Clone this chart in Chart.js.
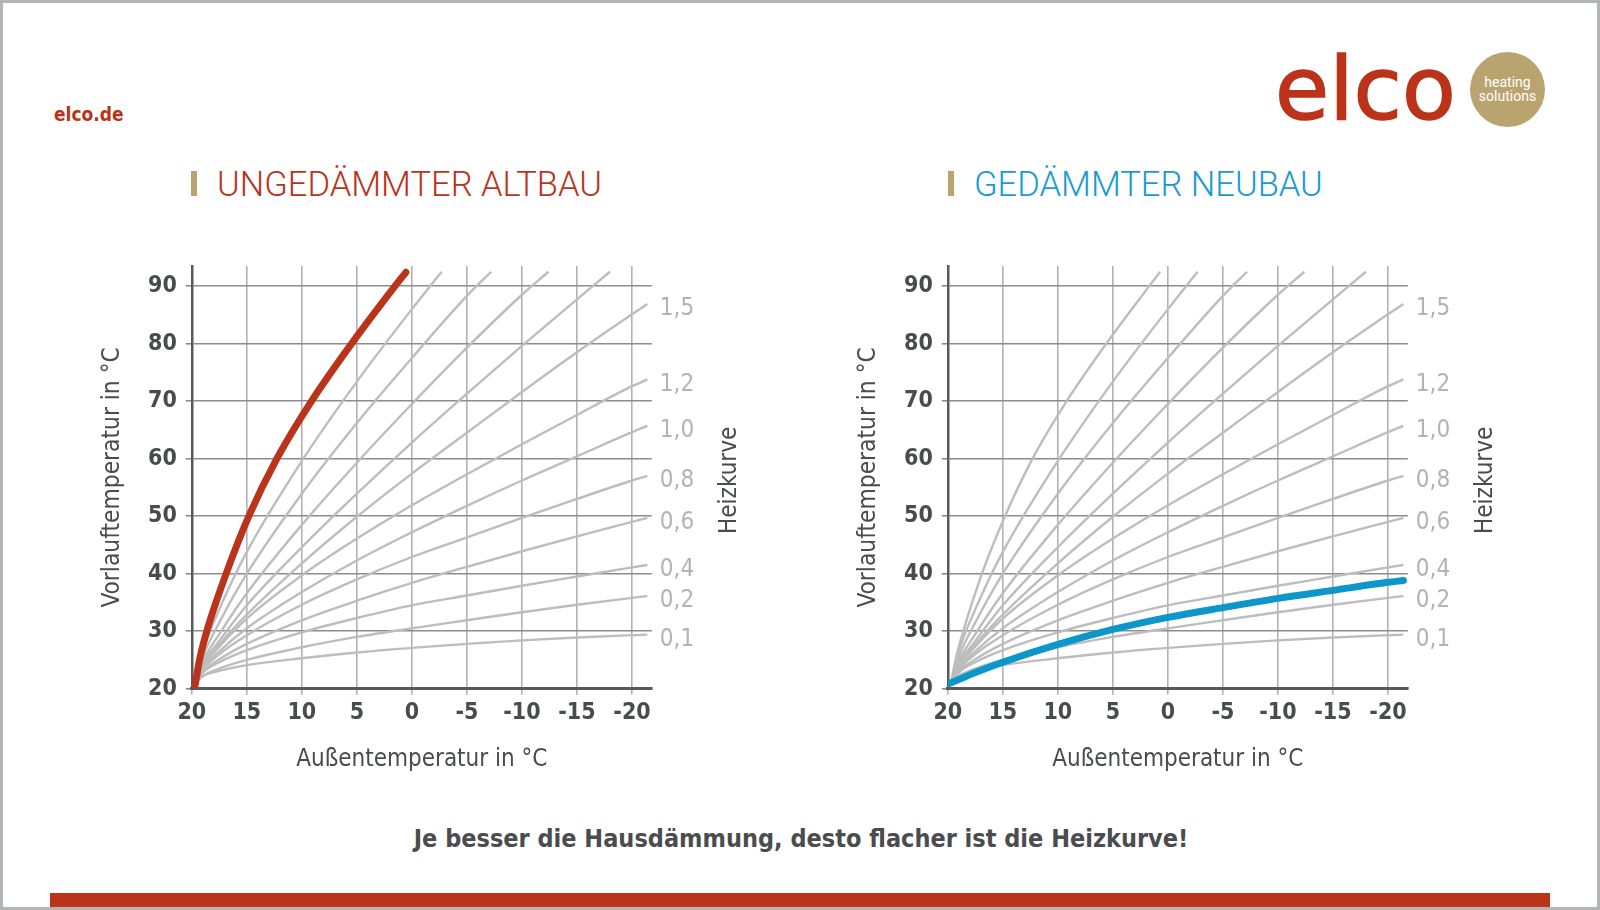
<!DOCTYPE html>
<html>
<head>
<meta charset="utf-8">
<script src="https://cdn.jsdelivr.net/npm/chart.js@4.4.1/dist/chart.umd.min.js"></script>
<style>
  html, body { margin: 0; padding: 0; background: #fff; }
  #page { position: relative; width: 1600px; height: 910px; overflow: hidden; background: #fff;
          font-family: 'DejaVu Sans Condensed', 'DejaVu Sans', sans-serif; }
  #frame { position: absolute; left: 0; top: 0; width: 1600px; height: 910px; box-sizing: border-box;
           border: 3px solid #b4b6b5; pointer-events: none; z-index: 10; }
  .abs { position: absolute; white-space: nowrap; }
  #site { left: 54px; top: 105px; font-weight: bold; font-size: 19px; line-height: 19px; color: #b8331a; }
  #logo { left: 1275px; top: 45px; font-family: 'DejaVu Sans', sans-serif; font-size: 88px;
          line-height: 88px; color: #bb3319; -webkit-text-stroke: 1.6px #bb3319; }
  #badge { left: 1470px; top: 52px; width: 75px; height: 75px; border-radius: 50%; background: #b9a46f; }
  .badgeText { left: 1470px; width: 75px; text-align: center; font-family: Roboto, sans-serif; font-size: 14px;
               line-height: 14px; color: #fff; }
  .bar { position: absolute; top: 171px; width: 6px; height: 25px; background: #b9a46e; }
  .title { top: 167px; font-family: Roboto, sans-serif; font-weight: 300; font-size: 34.5px; line-height: 34.5px; }
  #note { left: 0; top: 826px; width: 1602px; text-align: center; font-weight: bold; font-size: 25px;
          line-height: 25px; color: #4b4c4e; }
  #redbar { left: 50px; top: 893px; width: 1500px; height: 14px; background: #bb3319; }
  .chartBox { position: absolute; top: 230px; width: 800px; height: 580px; }
</style>
</head>
<body>
<div id="page">
  <div class="abs" id="site">elco.de</div>
  <div class="abs" id="logo">elco</div>
  <div class="abs" id="badge"></div>
  <div class="abs badgeText" style="top:75px">heating</div>
  <div class="abs badgeText" style="top:89px">solutions</div>

  <div class="bar" style="left:191px"></div>
  <div class="abs title" style="left:217px; color:#b9341a">UNGEDÄMMTER ALTBAU</div>
  <div class="bar" style="left:948px"></div>
  <div class="abs title" style="left:974px; color:#1a9ad2">GEDÄMMTER NEUBAU</div>

  <div class="chartBox" style="left:0px"><canvas id="altbau" width="800" height="580"></canvas></div>
  <div class="chartBox" style="left:756px"><canvas id="neubau" width="800" height="580"></canvas></div>

  <div class="abs" id="note">Je besser die Hausdämmung, desto flacher ist die Heizkurve!</div>
  <div class="abs" id="redbar"></div>
  <div id="frame"></div>
</div>

<script>
// outside temperature (x) where the labelled curves were read
const outsideTemp = [19.7, 19, 17.5, 15, 10, 5, 0, -5, -10, -15, -20, -21.4];

// flow temperature of the labelled heating curves
const curve01 = [21.0, 22.2, 23.1, 24.1, 25.3, 26.3, 27.1, 27.8, 28.4, 28.9, 29.3, 29.4];
const curve02 = [21.0, 22.2, 23.5, 25.0, 27.2, 29.0, 30.5, 31.9, 33.3, 34.6, 35.8, 36.1];
const curve04 = [21.0, 22.8, 24.6, 26.7, 29.8, 32.3, 34.5, 36.2, 37.9, 39.5, 41.1, 41.5];
const curve06 = [21.0, 22.9, 25.1, 27.8, 31.9, 35.3, 38.4, 41.2, 43.9, 46.5, 49.0, 49.7];
const curve08 = [21.0, 23.3, 26.0, 29.3, 34.6, 39.0, 42.9, 46.3, 49.7, 53.0, 56.2, 57.0];
const curve10 = [21.0, 23.5, 26.5, 30.5, 36.8, 42.3, 47.2, 51.8, 56.2, 60.4, 64.6, 65.7];
const curve12 = [21.0, 23.8, 27.3, 32.2, 39.7, 46.1, 51.9, 57.3, 62.5, 67.6, 72.6, 73.8];
const curve15 = [21.0, 24.0, 27.7, 32.9, 41.8, 49.9, 57.4, 64.5, 71.6, 78.5, 85.1, 86.9];

// steeper curves leave the chart at the top, so they have their own x values
const curve20X = [19.7, 19, 17.5, 15, 10, 5, 0, -5, -10, -15, -18.0];
const curve20Y = [21.0, 24.3, 28.3, 34.5, 44.6, 53.9, 62.8, 71.3, 79.6, 87.7, 92.5];
const curve25X = [19.7, 19, 17.5, 15, 10, 5, 0, -5, -10, -12.4];
const curve25Y = [21.0, 24.7, 29.5, 36.6, 48.5, 59.3, 69.5, 79.3, 88.5, 92.5];
const curve30X = [19.7, 19, 17.5, 15, 10, 5, 0, -5, -7.2];
const curve30Y = [21.0, 25.5, 31.5, 40.0, 53.9, 66.2, 77.5, 88.3, 92.5];
const curve35X = [19.7, 19, 17.5, 15, 10, 5, 0, -2.7];
const curve35Y = [21.0, 26.5, 33.8, 43.8, 59.6, 73.4, 86.0, 92.5];
const curve40X = [19.7, 19.3, 18.6, 16.9, 14.8, 12.3, 9.2, 5.6, 1.7, 0.7];
const curve40Y = [21.0, 25, 30, 40, 50, 60, 70, 80, 90, 92.5];

// highlighted curves
const altbauX = [19.7, 19.3, 18.64, 16.88, 14.82, 12.27, 9.12, 5.48, 1.54, 0.55];
const altbauY = [20.6, 25, 30, 40, 50, 60, 70, 80, 90, 92.4];
const neubauX = [20, 19, 17.5, 15, 10, 5, 0, -5, -10, -15, -20, -21.4];
const neubauY = [20.8, 21.6, 22.8, 24.6, 27.7, 30.3, 32.4, 34.1, 35.7, 37.1, 38.5, 38.8];

const xTicks = [20, 15, 10, 5, 0, -5, -10, -15, -20];
const yTicks = [20, 30, 40, 50, 60, 70, 80, 90];

const greyCurves = [
  { label: '0,1', x: outsideTemp, y: curve01 },
  { label: '0,2', x: outsideTemp, y: curve02 },
  { label: '0,4', x: outsideTemp, y: curve04 },
  { label: '0,6', x: outsideTemp, y: curve06 },
  { label: '0,8', x: outsideTemp, y: curve08 },
  { label: '1,0', x: outsideTemp, y: curve10 },
  { label: '1,2', x: outsideTemp, y: curve12 },
  { label: '1,5', x: outsideTemp, y: curve15 },
  { label: '', x: curve20X, y: curve20Y },
  { label: '', x: curve25X, y: curve25Y },
  { label: '', x: curve30X, y: curve30Y },
  { label: '', x: curve35X, y: curve35Y },
  { label: '', x: curve40X, y: curve40Y }
];

const FONT = "'DejaVu Sans Condensed', 'DejaVu Sans', sans-serif";
const DARK = '#4a4b4d';

const toPoints = (xs, ys) => xs.map((x, i) => ({ x: x, y: ys[i] }));

// curve names at the right end + the "Heizkurve" caption
const curveLabels = {
  id: 'curveLabels',
  afterDatasetsDraw(chart) {
    const { ctx, chartArea, scales } = chart;
    ctx.save();
    ctx.font = '24px ' + FONT;
    ctx.fillStyle = '#b3b3b3';
    ctx.textBaseline = 'middle';
    ctx.textAlign = 'left';
    chart.data.datasets.forEach(ds => {
      if (!ds.heizLabel) return;
      const last = ds.data[ds.data.length - 1];
      ctx.fillText(ds.heizLabel, chartArea.right + 8, scales.y.getPixelForValue(last.y) + 5);
    });
    ctx.translate(chartArea.right + 78, (chartArea.top + chartArea.bottom) / 2 + 3);
    ctx.rotate(-Math.PI / 2);
    ctx.textAlign = 'center';
    ctx.fillStyle = DARK;
    ctx.fillText('Heizkurve', 0, 0);
    ctx.restore();
  }
};

function buildChart(id, hx, hy, color) {
  const datasets = [{
    data: toPoints(hx, hy),
    borderColor: color,
    borderWidth: 7,
    borderCapStyle: 'round',
    borderJoinStyle: 'round'
  }];
  greyCurves.forEach(c => datasets.push({
    data: toPoints(c.x, c.y),
    borderColor: '#bdbdbd',
    borderWidth: 2.4,
    heizLabel: c.label
  }));

  return new Chart(document.getElementById(id), {
    type: 'line',
    data: { datasets },
    options: {
      responsive: false,
      animation: false,
      layout: { padding: { left: 0, top: 36, right: 148.2, bottom: 31.3 } },
      elements: { point: { radius: 0 }, line: { cubicInterpolationMode: 'monotone', fill: false } },
      plugins: { legend: { display: false }, tooltip: { enabled: false } },
      scales: {
        x: {
          type: 'linear', reverse: true, min: -21.8, max: 20,
          afterBuildTicks: s => { s.ticks = xTicks.map(v => ({ value: v })); },
          afterFit: s => { s.height = 90; },
          grid: { color: '#b2b2b2', lineWidth: 1.6, tickLength: 6 },
          border: { color: '#58595b', width: 3 },
          ticks: { color: DARK, padding: 5, maxRotation: 0, font: { family: FONT, size: 23, weight: 'bold' },
                   callback: v => String(v) },
          title: { display: true, text: 'Außentemperatur in °C', color: DARK,
                   font: { family: FONT, size: 24 }, padding: { top: 0, bottom: 4.3 } }
        },
        y: {
          type: 'linear', min: 20, max: 93.5,
          afterBuildTicks: s => { s.ticks = yTicks.map(v => ({ value: v })); },
          afterFit: s => { s.width = 191.8; },
          grid: { color: '#8c8c8c', lineWidth: 1.6, tickLength: 6 },
          border: { color: '#58595b', width: 2.5 },
          ticks: { color: DARK, padding: 9, font: { family: FONT, size: 23, weight: 'bold' },
                   callback: v => String(v) },
          title: { display: true, text: 'Vorlauftemperatur in °C', color: DARK,
                   font: { family: FONT, size: 24.3 }, padding: { top: 97.6, bottom: 0 } }
        }
      }
    },
    plugins: [curveLabels]
  });
}

buildChart('altbau', altbauX, altbauY, '#b9341a');
buildChart('neubau', neubauX, neubauY, '#0c96c9');
</script>
</body>
</html>
